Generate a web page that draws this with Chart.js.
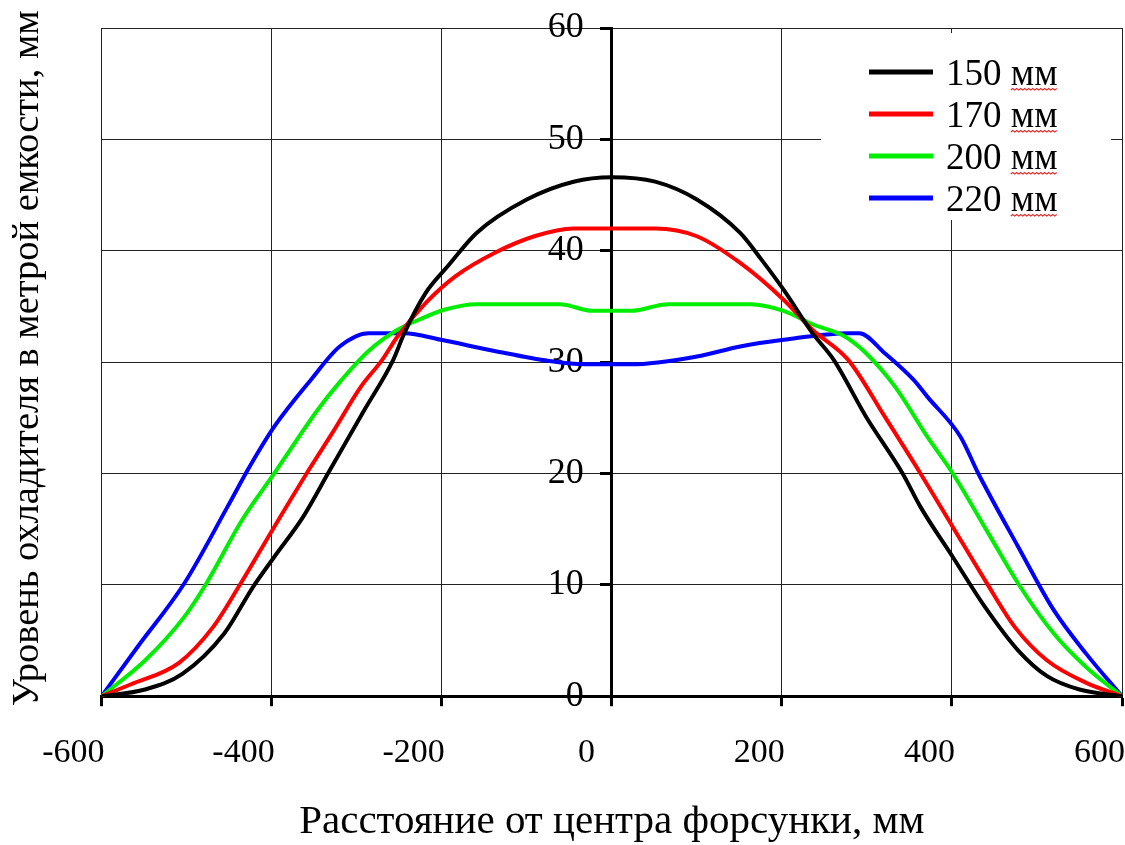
<!DOCTYPE html>
<html><head><meta charset="utf-8">
<script src="https://cdn.jsdelivr.net/npm/chart.js@4.4.0/dist/chart.umd.min.js"></script>
<style>html,body{margin:0;padding:0;background:#fff;}</style>
</head><body>
<canvas id="c" width="1125" height="845"></canvas>
<script>
// ---- data ----
const seriesLabels = ['150 мм', '170 мм', '200 мм', '220 мм'];
const seriesColors = ['#000000', '#ff0000', '#00ee00', '#0000ff'];

const x150 = [-600,-549,-505,-456,-422,-397,-363,-333,-291,-257,-244,-219,-193,-159,-100,-45,0,51,100,151,176,202,236,261,299,342,363,401,439,478,512,550,600];
const y150 = [0,0.6,2.0,5.6,9.8,12.5,16.1,20.1,25.7,30.2,32.6,36.2,38.6,41.6,44.6,46.2,46.6,46.2,44.6,41.6,39.2,36.5,32.6,30.2,25.1,20.0,17.0,12.5,8.0,4.1,1.8,0.6,0];

const x170 = [-600,-566,-509,-469,-439,-397,-354,-329,-295,-270,-252,-219,-184,-138,-91,-45,0,51,100,151,202,236,278,321,363,401,439,474,512,558,600];
const y170 = [0,1.05,3.0,6.2,9.8,15.2,20.6,23.6,27.8,30.2,32.3,35.3,37.7,39.8,41.3,42.0,42.0,42.0,41.3,38.9,35.6,32.9,30.2,25.1,20.0,15.2,10.4,6.2,3.2,1.2,0];

const x200 = [-600,-549,-503,-477,-435,-397,-346,-320,-286,-252,-227,-197,-159,-61,-23,23,66,163,202,236,274,299,333,371,401,443,478,520,558,600];
const y200 = [0,3.2,7.1,10.1,15.8,20.0,25.7,28.2,31.0,32.9,33.8,34.7,35.2,35.2,34.6,34.6,35.2,35.2,34.6,33.4,32.3,30.8,27.8,23.3,20.0,14.6,10.1,5.6,2.6,0];

const x220 = [-600,-558,-503,-452,-426,-397,-354,-320,-286,-244,-201,-138,-74,-32,23,100,151,202,278,291,321,355,371,410,431,478,520,558,600];
const y220 = [0,4.4,10.1,17.0,20.6,24.2,28.4,31.4,32.6,32.6,32.0,31.0,30.1,29.8,29.8,30.5,31.4,32.0,32.6,32.6,30.8,28.4,26.9,23.3,20.0,13.4,7.7,3.8,0];

const xTicks = [-600,-400,-200,0,200,400,600];
const yTicks = [0,10,20,30,40,50,60];
const xTitle = 'Расстояние от центра форсунки, мм';
const yTitle = '\u2009Уровень охладителя в метрой емкости, мм';

// ---- build ----
const FONT = '"Liberation Serif", "Times New Roman", serif';
const xs = [x150, x170, x200, x220];
const ys = [y150, y170, y200, y220];
const datasets = seriesLabels.map((lab, i) => ({
  label: lab,
  data: xs[i].map((x, j) => ({x: x, y: ys[i][j]})),
  borderColor: seriesColors[i],
  backgroundColor: seriesColors[i],
  borderWidth: 4,
  pointRadius: 0,
  fill: false,
  cubicInterpolationMode: 'monotone'
}));

const boxLegend = {
  id: 'boxLegend',
  afterDraw(chart) {
    const ctx = chart.ctx;
    ctx.save();
    ctx.fillStyle = '#fff';
    ctx.fillRect(821, 33, 290, 187);
    ctx.font = '37px ' + FONT;
    ctx.textBaseline = 'middle';
    ctx.textAlign = 'left';
    chart.data.datasets.forEach((ds, i) => {
      const yy = 72 + i * 42;
      ctx.strokeStyle = ds.borderColor;
      ctx.lineWidth = 5;
      ctx.beginPath(); ctx.moveTo(869, yy); ctx.lineTo(933, yy); ctx.stroke();
      ctx.fillStyle = '#000';
      ctx.fillText(ds.label, 946, yy + 3);
      const wTot = ctx.measureText(ds.label).width;
      const wUnit = ctx.measureText('мм').width;
      const x0 = 946 + wTot - wUnit, x1 = 946 + wTot;
      ctx.strokeStyle = '#e03030';
      ctx.lineWidth = 1.2;
      ctx.beginPath();
      let up = true;
      ctx.moveTo(x0, yy + 18);
      for (let x = x0 + 2; x <= x1; x += 2) { ctx.lineTo(x, yy + (up ? 16.5 : 18)); up = !up; }
      ctx.stroke();
    });
    ctx.restore();
  }
};

const gridOpts = {color: '#222', lineWidth: 1, tickLength: 10, tickWidth: 3, tickColor: '#000'};

new Chart(document.getElementById('c'), {
  type: 'line',
  data: {datasets: datasets},
  plugins: [boxLegend],
  options: {
    responsive: false,
    animation: false,
    devicePixelRatio: 1,
    layout: {padding: {left: 5, right: 3, top: 28, bottom: 0}},
    plugins: {legend: {display: false}, tooltip: {enabled: false}},
    scales: {
      x: {
        type: 'linear', min: -600, max: 600,
        afterBuildTicks: a => { a.ticks = xTicks.map(v => ({value: v})); },
        afterFit: s => { s.paddingLeft = 0; s.paddingRight = 0; },
        ticks: {
          font: {family: FONT, size: 34, lineHeight: 1.05}, color: '#000', align: 'end', padding: 29, maxRotation: 0, labelOffset: 3,
          callback: v => v === 0 ? '0\u2002\u200a' : String(v)
        },
        grid: gridOpts,
        border: {display: true, color: '#000', width: 3},
        title: {display: true, text: xTitle, color: '#000', font: {family: FONT, size: 41, lineHeight: 1.1}, padding: {top: 0, bottom: 0}}
      },
      y: {
        type: 'linear', axis: 'y', position: 'center', min: 0, max: 60,
        afterBuildTicks: a => { a.ticks = yTicks.map(v => ({value: v})); },
        afterFit: s => { s.paddingTop = 0; s.paddingBottom = 0; },
        ticks: {font: {family: FONT, size: 36}, color: '#000', padding: 18, callback: v => String(v)},
        grid: gridOpts,
        border: {display: true, color: '#000', width: 3}
      },
      y2: {
        type: 'linear', axis: 'y', position: 'left', min: 0, max: 60,
        ticks: {display: false},
        grid: {display: false, drawTicks: false},
        border: {display: false},
        title: {display: true, text: yTitle, color: '#000', font: {family: FONT, size: 38.5}, padding: {top: 0, bottom: 50.4}}
      }
    }
  }
});
</script>
</body></html>
